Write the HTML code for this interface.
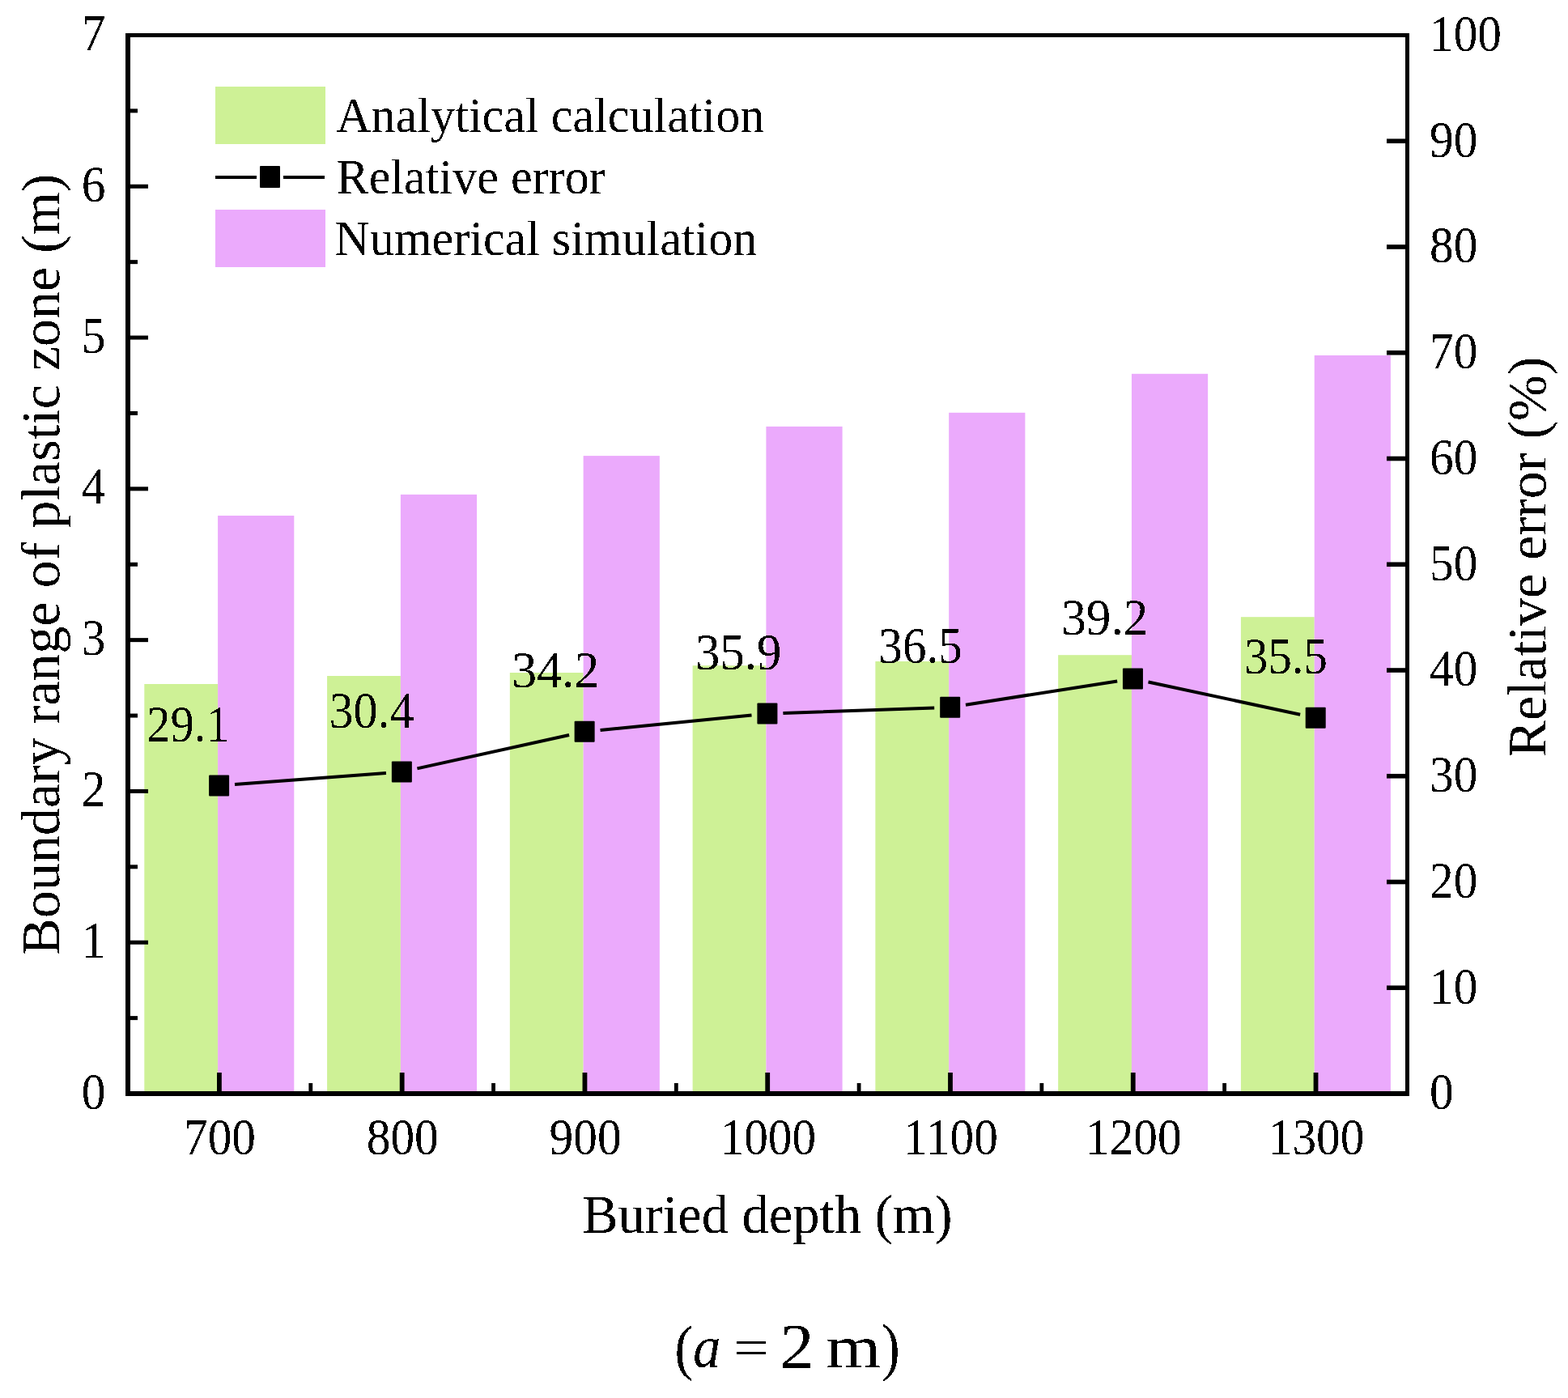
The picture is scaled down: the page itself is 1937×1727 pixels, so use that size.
<!DOCTYPE html><html><head><meta charset="utf-8"><style>html,body{margin:0;padding:0;background:#fff;overflow:hidden;}svg{display:block;}text{font-family:"Liberation Serif","Times New Roman",serif;fill:#000;}</style></head><body>
<svg width="1937" height="1727" viewBox="0 0 1937 1727">
<defs><filter id="al" x="0" y="0" width="1937" height="1727" filterUnits="userSpaceOnUse"><feComponentTransfer><feFuncA type="discrete" tableValues="0 1"/></feComponentTransfer></filter></defs>
<rect x="0" y="0" width="1937" height="1727" fill="#fff"/>
<rect x="178.30" y="845.00" width="90.80" height="503.00" fill="#CEF196"/>
<rect x="269.10" y="637.00" width="94.2" height="711.00" fill="#EBAAFC"/>
<rect x="404.07" y="835.00" width="90.80" height="513.00" fill="#CEF196"/>
<rect x="494.87" y="610.90" width="94.2" height="737.10" fill="#EBAAFC"/>
<rect x="629.84" y="831.00" width="90.80" height="517.00" fill="#CEF196"/>
<rect x="720.64" y="563.10" width="94.2" height="784.90" fill="#EBAAFC"/>
<rect x="855.61" y="822.20" width="90.80" height="525.80" fill="#CEF196"/>
<rect x="946.41" y="526.90" width="94.2" height="821.10" fill="#EBAAFC"/>
<rect x="1081.38" y="817.00" width="90.80" height="531.00" fill="#CEF196"/>
<rect x="1172.18" y="509.80" width="94.2" height="838.20" fill="#EBAAFC"/>
<rect x="1307.15" y="809.20" width="90.80" height="538.80" fill="#CEF196"/>
<rect x="1397.95" y="461.80" width="94.2" height="886.20" fill="#EBAAFC"/>
<rect x="1532.92" y="762.20" width="90.80" height="585.80" fill="#CEF196"/>
<rect x="1623.72" y="439.00" width="94.2" height="909.00" fill="#EBAAFC"/>
<rect x="155" y="41" width="6" height="1313" fill="#000"/>
<rect x="1736" y="41" width="5" height="1313" fill="#000"/>
<rect x="155" y="41" width="1586" height="5" fill="#000"/>
<rect x="155" y="1348" width="1586" height="6" fill="#000"/>
<rect x="161" y="1161.71" width="22" height="5" fill="#000"/>
<rect x="161" y="974.92" width="22" height="5" fill="#000"/>
<rect x="161" y="788.13" width="22" height="5" fill="#000"/>
<rect x="161" y="601.34" width="22" height="5" fill="#000"/>
<rect x="161" y="414.55" width="22" height="5" fill="#000"/>
<rect x="161" y="227.76" width="22" height="5" fill="#000"/>
<rect x="161" y="1255.11" width="9" height="5" fill="#000"/>
<rect x="161" y="1068.32" width="9" height="5" fill="#000"/>
<rect x="161" y="881.53" width="9" height="5" fill="#000"/>
<rect x="161" y="694.74" width="9" height="5" fill="#000"/>
<rect x="161" y="507.95" width="9" height="5" fill="#000"/>
<rect x="161" y="321.15" width="9" height="5" fill="#000"/>
<rect x="161" y="134.37" width="9" height="5" fill="#000"/>
<rect x="1713" y="1217.45" width="23" height="5.6" fill="#000"/>
<rect x="1713" y="1086.70" width="23" height="5.6" fill="#000"/>
<rect x="1713" y="955.95" width="23" height="5.6" fill="#000"/>
<rect x="1713" y="825.20" width="23" height="5.6" fill="#000"/>
<rect x="1713" y="694.45" width="23" height="5.6" fill="#000"/>
<rect x="1713" y="563.70" width="23" height="5.6" fill="#000"/>
<rect x="1713" y="432.95" width="23" height="5.6" fill="#000"/>
<rect x="1713" y="302.20" width="23" height="5.6" fill="#000"/>
<rect x="1713" y="171.45" width="23" height="5.6" fill="#000"/>
<rect x="268.00" y="1325" width="5.8" height="23" fill="#000"/>
<rect x="493.77" y="1325" width="5.8" height="23" fill="#000"/>
<rect x="719.54" y="1325" width="5.8" height="23" fill="#000"/>
<rect x="945.31" y="1325" width="5.8" height="23" fill="#000"/>
<rect x="1171.08" y="1325" width="5.8" height="23" fill="#000"/>
<rect x="1396.85" y="1325" width="5.8" height="23" fill="#000"/>
<rect x="1622.62" y="1325" width="5.8" height="23" fill="#000"/>
<rect x="381.38" y="1338" width="4.8" height="10" fill="#000"/>
<rect x="607.15" y="1338" width="4.8" height="10" fill="#000"/>
<rect x="832.93" y="1338" width="4.8" height="10" fill="#000"/>
<rect x="1058.69" y="1338" width="4.8" height="10" fill="#000"/>
<rect x="1284.46" y="1338" width="4.8" height="10" fill="#000"/>
<rect x="1510.23" y="1338" width="4.8" height="10" fill="#000"/>
<path d="M290.04,969.05L476.93,954.98M515.41,949.33L703.10,908.03M741.55,901.92L928.50,883.52M967.40,880.93L1154.19,874.44M1192.95,870.75L1380.18,841.47M1418.52,842.55L1606.15,882.75" stroke="#000" stroke-width="4" fill="none"/>
<rect x="258.10" y="957.52" width="25" height="26" rx="1" fill="#000"/>
<rect x="483.87" y="940.52" width="25" height="26" rx="1" fill="#000"/>
<rect x="709.64" y="890.84" width="25" height="26" rx="1" fill="#000"/>
<rect x="935.41" y="868.61" width="25" height="26" rx="1" fill="#000"/>
<rect x="1161.18" y="860.76" width="25" height="26" rx="1" fill="#000"/>
<rect x="1386.95" y="825.46" width="25" height="26" rx="1" fill="#000"/>
<rect x="1612.72" y="873.84" width="25" height="26" rx="1" fill="#000"/>
<rect x="266" y="107" width="136" height="71" fill="#CEF196"/>
<rect x="266" y="259" width="136" height="71" fill="#EBAAFC"/>
<path d="M266,219H317M350,219H401" stroke="#000" stroke-width="4"/>
<rect x="321" y="205" width="25" height="27" rx="1" fill="#000"/>
<g filter="url(#al)"><text transform="translate(130.50,1369.60) scale(0.95,1)" font-size="62.5" text-anchor="end">0</text><text transform="translate(130.50,1182.81) scale(0.95,1)" font-size="62.5" text-anchor="end">1</text><text transform="translate(130.50,996.02) scale(0.95,1)" font-size="62.5" text-anchor="end">2</text><text transform="translate(130.50,809.23) scale(0.95,1)" font-size="62.5" text-anchor="end">3</text><text transform="translate(130.50,622.44) scale(0.95,1)" font-size="62.5" text-anchor="end">4</text><text transform="translate(130.50,435.65) scale(0.95,1)" font-size="62.5" text-anchor="end">5</text><text transform="translate(130.50,248.86) scale(0.95,1)" font-size="62.5" text-anchor="end">6</text><text transform="translate(130.50,62.07) scale(0.95,1)" font-size="62.5" text-anchor="end">7</text><text transform="translate(1766.00,1370.30) scale(0.95,1)" font-size="62.5">0</text><text transform="translate(1766.00,1239.55) scale(0.95,1)" font-size="62.5">10</text><text transform="translate(1766.00,1108.80) scale(0.95,1)" font-size="62.5">20</text><text transform="translate(1766.00,978.05) scale(0.95,1)" font-size="62.5">30</text><text transform="translate(1766.00,847.30) scale(0.95,1)" font-size="62.5">40</text><text transform="translate(1766.00,716.55) scale(0.95,1)" font-size="62.5">50</text><text transform="translate(1766.00,585.80) scale(0.95,1)" font-size="62.5">60</text><text transform="translate(1766.00,455.05) scale(0.95,1)" font-size="62.5">70</text><text transform="translate(1766.00,324.30) scale(0.95,1)" font-size="62.5">80</text><text transform="translate(1766.00,193.55) scale(0.95,1)" font-size="62.5">90</text><text transform="translate(1766.00,62.80) scale(0.95,1)" font-size="62.5">100</text><text transform="translate(271.50,1426.40) scale(0.95,1)" font-size="62.5" text-anchor="middle">700</text><text transform="translate(497.27,1426.40) scale(0.95,1)" font-size="62.5" text-anchor="middle">800</text><text transform="translate(723.04,1426.40) scale(0.95,1)" font-size="62.5" text-anchor="middle">900</text><text transform="translate(948.81,1426.40) scale(0.95,1)" font-size="62.5" text-anchor="middle">1000</text><text transform="translate(1174.58,1426.40) scale(0.95,1)" font-size="62.5" text-anchor="middle">1100</text><text transform="translate(1400.35,1426.40) scale(0.95,1)" font-size="62.5" text-anchor="middle">1200</text><text transform="translate(1626.12,1426.40) scale(0.95,1)" font-size="62.5" text-anchor="middle">1300</text><text transform="translate(947.90,1523.30) scale(0.977,1)" font-size="68" text-anchor="middle">Buried depth (m)</text><text transform="translate(73.30,697.20) rotate(-90)" font-size="68" text-anchor="middle">Boundary range of plastic zone (m)</text><text transform="translate(1909.50,688.00) rotate(-90)" font-size="68" text-anchor="middle">Relative error (%)</text><text transform="matrix(0.9200,0,0,1.0000,833.24,1689.50)" font-size="76">(</text><text transform="matrix(0.9061,0,0,0.9811,856.09,1688.72)" font-size="76" font-style="italic">a</text><text transform="matrix(1.0114,0,0,0.8316,906.55,1686.31)" font-size="76">=</text><text transform="matrix(1.1065,0,0,1.0240,963.48,1689.20)" font-size="76">2</text><text transform="matrix(1.1446,0,0,0.9694,1020.61,1688.80)" font-size="76">m</text><text transform="matrix(0.8900,0,0,1.0162,1089.22,1689.64)" font-size="76">)</text><text transform="translate(232.50,915.92) scale(0.914,1)" font-size="64" text-anchor="middle">29.1</text><text transform="translate(459.02,898.92) scale(0.938,1)" font-size="64" text-anchor="middle">30.4</text><text transform="translate(686.34,849.24) scale(0.965,1)" font-size="64" text-anchor="middle">34.2</text><text transform="translate(912.21,827.01) scale(0.95,1)" font-size="64" text-anchor="middle">35.9</text><text transform="translate(1137.08,819.16) scale(0.924,1)" font-size="64" text-anchor="middle">36.5</text><text transform="translate(1364.80,783.86) scale(0.957,1)" font-size="64" text-anchor="middle">39.2</text><text transform="translate(1588.47,832.24) scale(0.919,1)" font-size="64" text-anchor="middle">35.5</text><text transform="translate(415.20,162.90) scale(0.97,1)" font-size="62">Analytical calculation</text><text transform="translate(415.60,238.90) scale(0.97,1)" font-size="62">Relative error</text><text transform="translate(413.60,314.80) scale(0.968,1)" font-size="62">Numerical simulation</text></g>
</svg></body></html>
